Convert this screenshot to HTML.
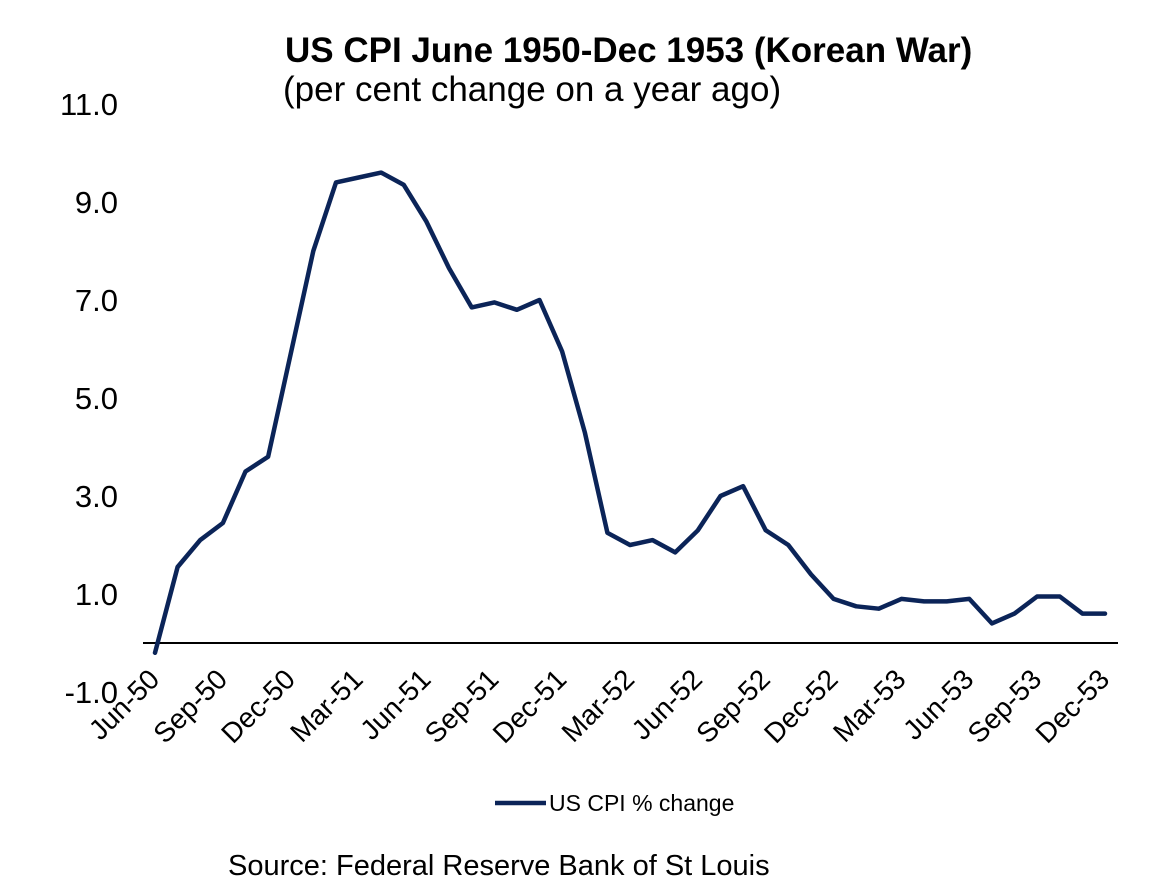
<!DOCTYPE html>
<html><head><meta charset="utf-8"><style>
body{margin:0;background:#fff;width:1172px;height:889px;overflow:hidden}
svg{font-family:"Liberation Sans",Arial,sans-serif}
</style></head><body>
<svg width="1172" height="889">
<text x="285" y="62" font-size="35" font-weight="bold">US CPI June 1950-Dec 1953 (Korean War)</text>
<text x="283" y="101" font-size="35">(per cent change on a year ago)</text>
<g id="yaxis"></g>
<line x1="143" y1="643" x2="1118" y2="643" stroke="#000" stroke-width="2"/>
<g id="xaxis"></g>
<path id="series" fill="none" stroke="#0b2458" stroke-width="4.5" stroke-linejoin="round" stroke-linecap="round"/>
<line x1="495" y1="803" x2="546" y2="803" stroke="#0b2458" stroke-width="4.5"/>
<text x="549" y="811" font-size="23">US CPI % change</text>
<text x="228" y="875" font-size="29">Source: Federal Reserve Bank of St Louis</text>
</svg>
<script>
const values=[-0.2,1.55,2.1,2.45,3.5,3.8,5.9,8.0,9.4,9.5,9.6,9.35,8.6,7.65,6.85,6.95,6.8,7.0,5.95,4.3,2.25,2.0,2.1,1.85,2.3,3.0,3.2,2.3,2.0,1.4,0.9,0.75,0.7,0.9,0.85,0.85,0.9,0.4,0.6,0.95,0.95,0.6,0.6];
const xLabels=["Jun-50","Sep-50","Dec-50","Mar-51","Jun-51","Sep-51","Dec-51","Mar-52","Jun-52","Sep-52","Dec-52","Mar-53","Jun-53","Sep-53","Dec-53"];
const yTicks=[-1,1,3,5,7,9,11];
const NS="http://www.w3.org/2000/svg";
const X=i=>155+i*(1105-155)/(values.length-1);
const Y=v=>643-v*49;
let d="";values.forEach((v,i)=>{d+=(i?"L":"M")+X(i).toFixed(1)+","+Y(v).toFixed(1)});
document.getElementById("series").setAttribute("d",d);
const ya=document.getElementById("yaxis");
yTicks.forEach(t=>{const e=document.createElementNS(NS,"text");
e.setAttribute("x",118);e.setAttribute("y",Y(t)+11);e.setAttribute("text-anchor","end");e.setAttribute("font-size","31");
e.textContent=t.toFixed(1);


ya.appendChild(e);});
const xa=document.getElementById("xaxis");
xLabels.forEach((l,k)=>{const x=X(k*3)+6,y=681;const e=document.createElementNS(NS,"text");
e.setAttribute("x",x);e.setAttribute("y",y);e.setAttribute("text-anchor","end");e.setAttribute("font-size","28");
e.setAttribute("transform","rotate(-45 "+x+" "+y+")");e.textContent=l;


xa.appendChild(e);});
</script>
</body></html>
